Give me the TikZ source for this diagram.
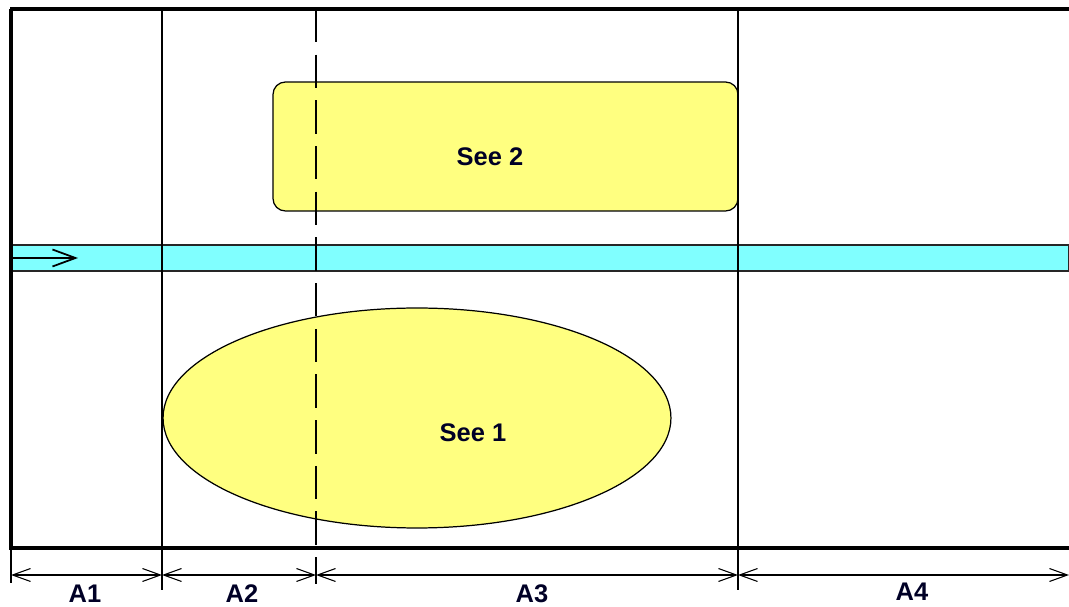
\documentclass[tikz,border=0pt]{standalone}
\usepackage{fontspec}
\setmainfont{Liberation Sans}
\usetikzlibrary{arrows.meta, positioning, shapes.geometric}

\begin{document}
\begin{tikzpicture}[
    x=0.02cm, y=-0.02cm,
    frame/.style={line width=2pt, black},
    divider/.style={line width=0.8pt, black},
    cutline/.style={divider, dash pattern=on 19pt off 7pt},
    seebox/.style={
        rectangle, draw=black, line width=0.7pt, rounded corners=7pt,
        fill=seeyellow, minimum width=9.3cm, minimum height=2.58cm,
        inner sep=0pt
    },
    seeoval/.style={
        ellipse, draw=black, line width=0.7pt, fill=seeyellow,
        minimum width=10.16cm, minimum height=4.4cm, inner sep=0pt
    },
    band/.style={draw=black!85, line width=0.8pt, fill=bandcyan},
    dim/.style={line width=0.6pt, {Straight Barb[length=3.6mm,width=2.6mm]}-{Straight Barb[length=3.6mm,width=2.6mm]}},
    flow/.style={line width=1pt, -{Straight Barb[length=4.6mm,width=3.4mm]}},
    lbl/.style={font=\bfseries\fontsize{14.5}{16}\selectfont, text=black!85!blue, inner sep=1pt}
]
\definecolor{seeyellow}{HTML}{FFFF80}
\definecolor{bandcyan}{HTML}{80FFFF}
\useasboundingbox (0,0) rectangle (1069,607);

% Coordinates
\coordinate (c0) at (11,575);
\coordinate (c1) at (162,575);
\coordinate (c2) at (316,575);
\coordinate (c3) at (738,575);
\coordinate (c4) at (1069,575);

% Band
\draw[band] (10,245) rectangle (1069,271);

% Nodes
\node[seebox]  (see2box)  at (505.5,146.5) {};
\node[seeoval] (see1oval) at (417,418) {};
\node[lbl] (see2) at (490,157) {See 2};
\node[lbl] (see1) at (473,433) {See 1};

% Dividers
\draw[divider] (162,9) -- (162,590);
\draw[divider] (738,9) -- (738,590);
\draw[cutline] (316,9) -- (316,584);
\draw[divider] (11,548) -- (11,583);

% Frame
\draw[frame] (10,9) -- (1069,9);
\draw[frame] (11,9) -- (11,548) -- (1069,548);

% Flow arrow
\coordinate (fstart) at (10,258);
\coordinate (fend) at (78,258);
\draw[flow] (fstart) -- (fend);

% Dimensions
\draw[dim] (c0) -- (c1);
\draw[dim] (c1) -- (c2);
\draw[dim] (c2) -- (c3);
\draw[dim] (c3) -- (c4);

% Dimension labels
\node[lbl] (a1) at (85,594) {A1};
\node[lbl] (a2) at (242,594) {A2};
\node[lbl] (a3) at (532,594) {A3};
\node[lbl] (a4) at (912,592) {A4};
\end{tikzpicture}
\end{document}
